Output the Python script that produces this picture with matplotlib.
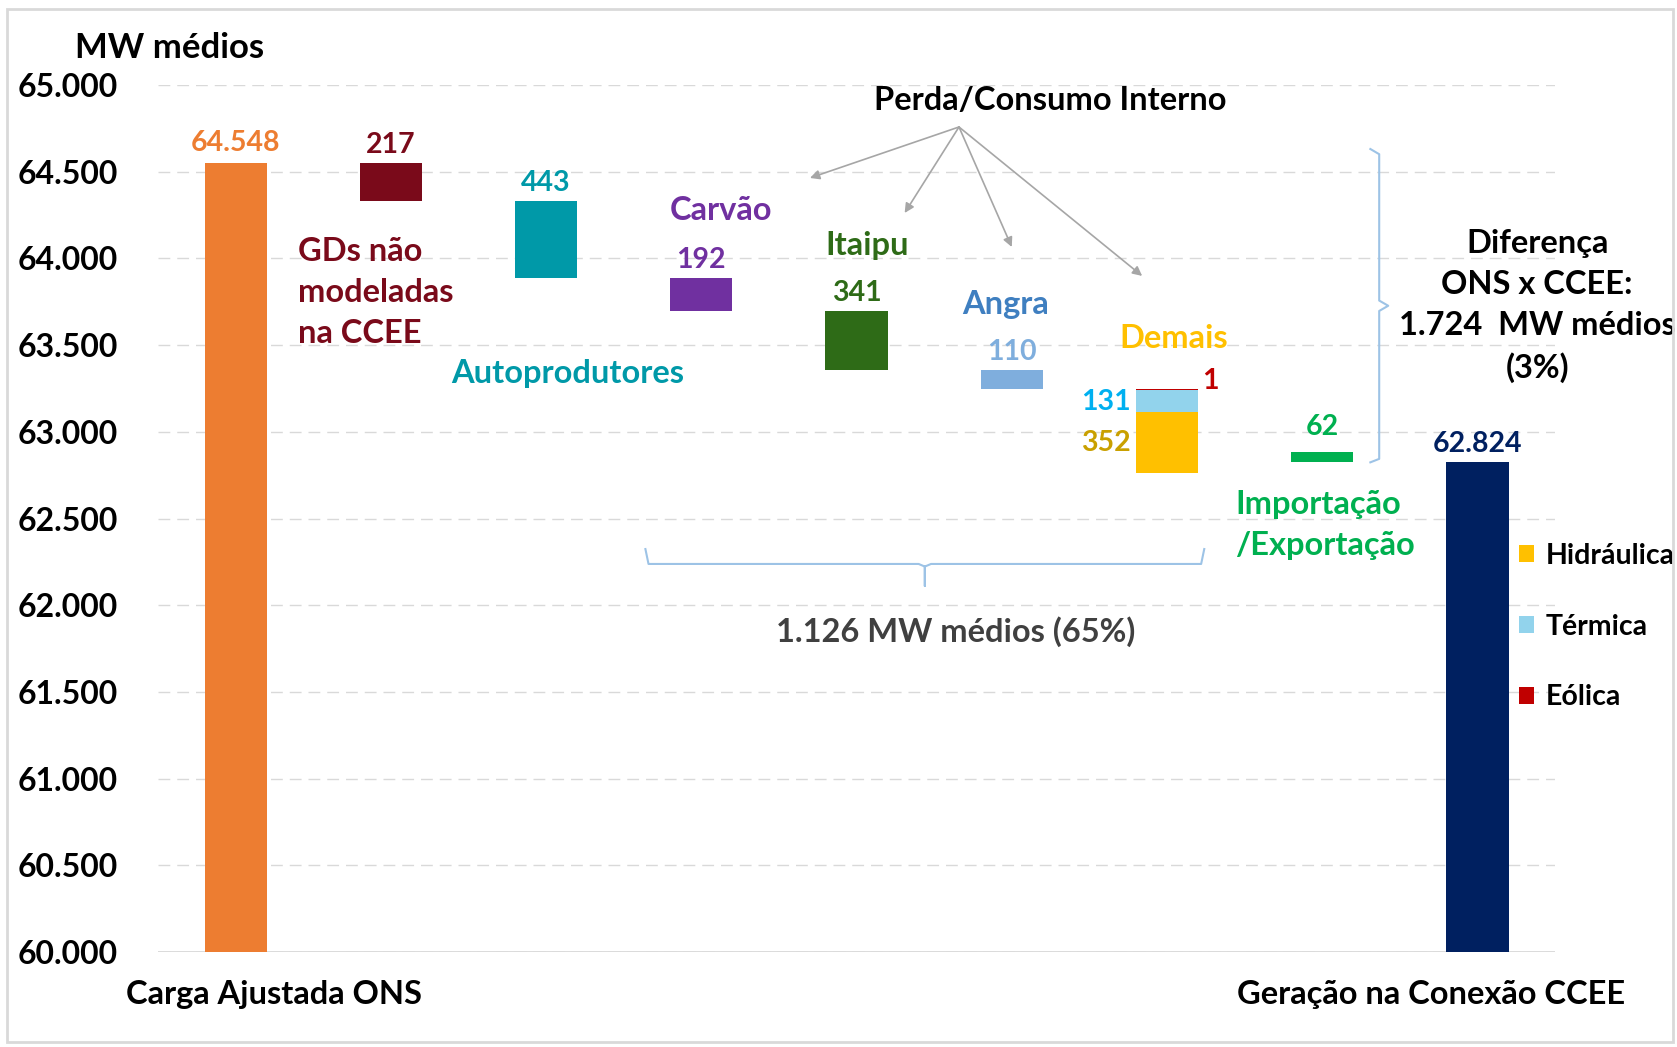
import numpy as np
import matplotlib.pyplot as plt
from matplotlib.patches import Rectangle

plt.rcParams['font.family'] = ['Lato', 'DejaVu Sans']
plt.rcParams['font.weight'] = 'bold'

# dados (MW médios)
carga_ons = 64548
geracao_ccee = 62824
perdas = [217, 443, 192, 341, 110]
perda_nomes = ['GDs não\nmodeladas\nna CCEE', 'Autoprodutores', 'Carvão', 'Itaipu', 'Angra']
perda_cores = ['#7A0A1A', '#0099A8', '#7030A0', '#2E6B17', '#7FAEDD']
perda_txt_cores = ['#7A0A1A', '#0099A8', '#7030A0', '#2E6B17', '#3F7FC0']
demais = [352, 131, 1]
demais_nomes = ['Hidráulica', 'Térmica', 'Eólica']
demais_cores = ['#FFC000', '#92D3EC', '#C00000']
demais_lbl_cores = ['#C9A000', '#00B0F0', '#C00000']
importacao = 62
diferenca = 1724
dif_pct = 3
parcela = 1126
parcela_pct = 65

FS_TXT = 23.5
FS_VAL = 20.5

def fmt(v):
    return f'{v:,.0f}'.replace(',', '.')

fig = plt.figure(figsize=(16.77, 10.47), dpi=100)
ax = fig.add_axes([0.0942, 0.0907, 0.8331, 0.8281])

w = 0.4
x_perdas = np.arange(1, 6)
tops = carga_ons - np.cumsum([0] + perdas[:-1])
bots = tops - np.array(perdas)

# barra inicial
ax.bar(0, carga_ons - 60000, bottom=60000, width=w, color='#ED7D31')
ax.annotate(fmt(carga_ons), (0, carga_ons), xytext=(0, 15), textcoords='offset points',
            ha='center', va='center', fontsize=FS_VAL, color='#ED7D31')

for x, t, b, v, c in zip(x_perdas, tops, bots, perdas, perda_cores):
    ax.bar(x, t - b, bottom=b, width=w, color=c)
    ax.annotate(str(v), (x, t), xytext=(0, 13), textcoords='offset points',
                ha='center', va='center', fontsize=FS_VAL, color=c)

# demais (empilhado)
d_top = carga_ons - sum(perdas)
d_base = d_top - sum(demais)
d_bots = d_base + np.cumsum([0] + demais[:-1])
handles = []
for v, b, c in zip(demais, d_bots, demais_cores):
    h = ax.bar(6, v, bottom=b, width=w, color=c)
    handles.append(h)
ax.annotate(str(demais[2]), (6 + w / 2, d_top), xytext=(9, 6), textcoords='offset points',
            ha='center', va='center', fontsize=FS_VAL, color=demais_lbl_cores[2])
ax.annotate(str(demais[1]), (6 - w / 2, d_bots[1] + demais[1] / 2), xytext=(-4, -1),
            textcoords='offset points', ha='right', va='center', fontsize=FS_VAL,
            color=demais_lbl_cores[1])
ax.annotate(str(demais[0]), (6 - w / 2, d_bots[0] + demais[0] / 2), xytext=(-4, 0),
            textcoords='offset points', ha='right', va='center', fontsize=FS_VAL,
            color=demais_lbl_cores[0])

# importação / exportação
ax.bar(7, importacao, bottom=geracao_ccee, width=w, color='#00B050')
ax.annotate(str(importacao), (7, geracao_ccee + importacao), xytext=(0, 18),
            textcoords='offset points', ha='center', va='center', fontsize=FS_VAL, color='#00B050')

# barra final
ax.bar(8, geracao_ccee - 60000, bottom=60000, width=w, color='#002060')
ax.annotate(fmt(geracao_ccee), (8, geracao_ccee), xytext=(0, 13), textcoords='offset points',
            ha='center', va='center', fontsize=FS_VAL, color='#002060')

# nomes das parcelas
ax.text(0.40, 63806, perda_nomes[0], ha='left', va='center', fontsize=FS_TXT,
        color=perda_txt_cores[0], linespacing=1.5)
ax.text(2.14, 63339, perda_nomes[1], ha='center', va='center', fontsize=FS_TXT, color=perda_txt_cores[1])
ax.text(3.13, 64279, perda_nomes[2], ha='center', va='center', fontsize=FS_TXT, color=perda_txt_cores[2])
ax.text(4.07, 64077, perda_nomes[3], ha='center', va='center', fontsize=FS_TXT, color=perda_txt_cores[3])
ax.text(4.96, 63737, perda_nomes[4], ha='center', va='center', fontsize=FS_TXT, color=perda_txt_cores[4])
ax.text(6.04, 63541, 'Demais', ha='center', va='center', fontsize=FS_TXT, color='#FFC000')
ax.text(6.44, 62460, 'Importação\n/Exportação', ha='left', va='center', fontsize=FS_TXT,
        color='#00B050', linespacing=1.5)

# Perda/Consumo Interno com setas
ax.text(5.25, 64913, 'Perda/Consumo Interno', ha='center', va='center', fontsize=FS_TXT, color='black')
for ex, ey in [(3.70, 64464), (4.31, 64262), (5.00, 64066), (5.84, 63899)]:
    ax.annotate('', xy=(ex, ey), xytext=(4.66, 64758),
                arrowprops=dict(arrowstyle='-|>', color='#A6A6A6', lw=1.2,
                                mutation_scale=14, shrinkA=0, shrinkB=0))

# chave horizontal
bc = '#9DC3E6'
xl, xr, xm = 2.64, 6.24, 4.44
y0, y1, y2 = 62324, 62238, 62111
ax.plot([xl, xl + 0.02, xm - 0.04, xm, xm, xm, xm + 0.04, xr - 0.02, xr],
        [y0, y1, y1, y1 - 15, y2, y1 - 15, y1, y1, y0], color=bc, lw=1.5)
ax.text(4.64, 61845, f'{fmt(parcela)} MW médios ({parcela_pct}%)', ha='center', va='center',
        fontsize=FS_TXT, color='#404040')

# chave vertical
vx, hx, tx = 7.367, 7.31, 7.425
ytop = carga_ons + 83
ymid = 63727
ax.plot([hx, vx, vx, tx, vx, vx, hx],
        [ytop, ytop - 30, ymid + 30, ymid, ymid - 30, geracao_ccee + 20, geracao_ccee],
        color=bc, lw=1.5, clip_on=False)
ax.text(8.385, 63725, f'Diferença\nONS x CCEE:\n{fmt(diferenca)}  MW médios\n({dif_pct}%)',
        ha='center', va='center', fontsize=FS_TXT, color='black', linespacing=1.5, clip_on=False)

# legenda
leg = ax.legend([h[0] for h in handles], demais_nomes, loc='upper left',
                bbox_to_anchor=(0.974, 0.472), frameon=False, fontsize=FS_VAL,
                handlelength=0.55, handleheight=0.55, handletextpad=0.4,
                labelspacing=1.57, borderpad=0, borderaxespad=0)

# eixos
ax.set_xlim(-0.5, 8.5)
ax.set_ylim(60000, 65000)
ax.set_yticks(np.arange(60000, 65001, 500))
ax.set_yticklabels([fmt(v) for v in np.arange(60000, 65001, 500)])
ax.tick_params(axis='y', length=0, pad=29, labelsize=23)
ax.set_xticks([])
for s in ax.spines.values():
    s.set_visible(False)
ax.set_axisbelow(True)
ax.grid(axis='y', color='#D9D9D9', lw=1.0, linestyle=(0, (8.5, 5)))
ax.axhline(60000, color='#D9D9D9', lw=1.3, zorder=0.5)

ax.text(0.25, 59756, 'Carga Ajustada ONS', ha='center', va='center', fontsize=FS_TXT, clip_on=False)
ax.text(7.70, 59756, 'Geração na Conexão CCEE', ha='center', va='center', fontsize=FS_TXT,
        clip_on=False)
fig.text(75 / 1677, 1 - 48 / 1047, 'MW médios', ha='left', va='center', fontsize=25)

fig.patches.append(Rectangle((0.0042, 0.005), 0.9934, 0.9866, transform=fig.transFigure,
                             fill=False, edgecolor='#D9D9D9', lw=2))

fig.savefig('out.png', dpi=100)
